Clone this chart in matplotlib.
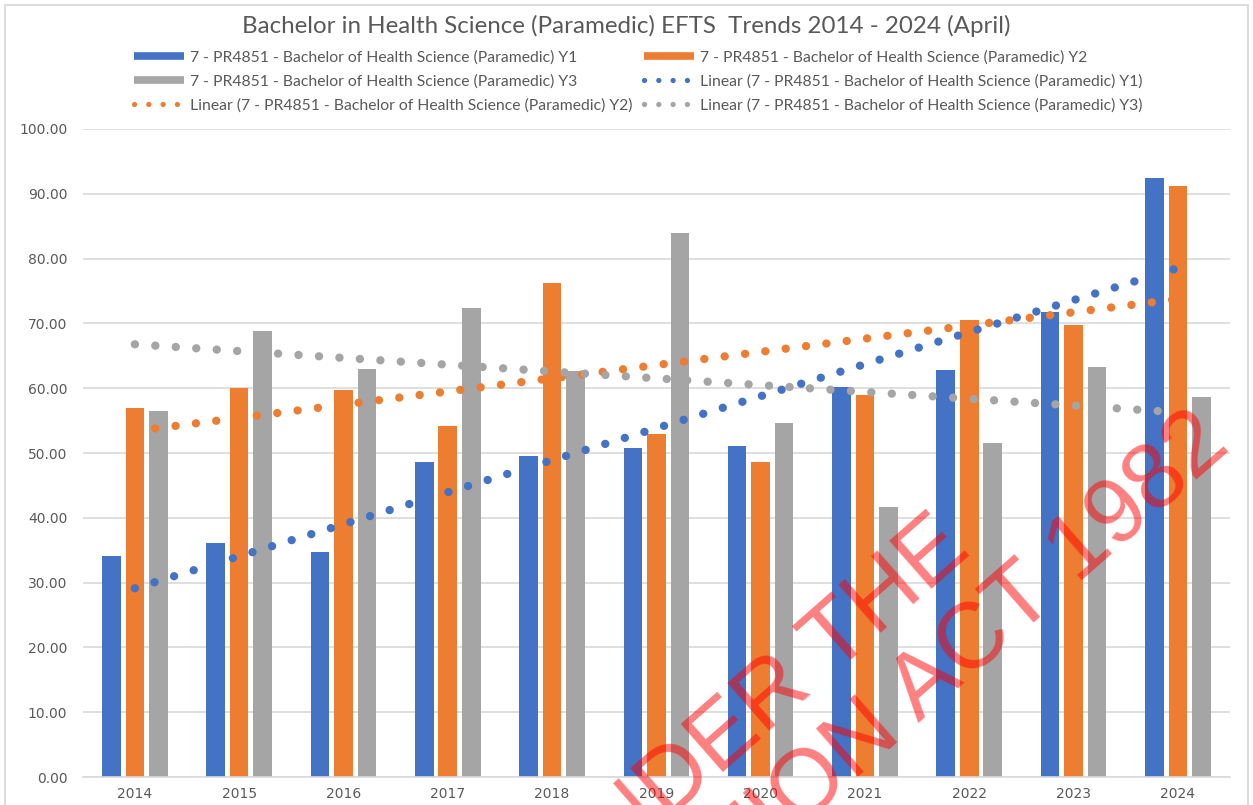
import numpy as np
import matplotlib
matplotlib.use("Agg")
import matplotlib.pyplot as plt
from matplotlib.lines import Line2D
from matplotlib.patches import Rectangle

years = ["2014", "2015", "2016", "2017", "2018", "2019", "2020", "2021", "2022", "2023", "2024"]
y1 = [34.1, 36.1, 34.7, 48.6, 49.5, 50.8, 51.1, 60.2, 62.8, 71.7, 92.5]
y2 = [57.0, 60.1, 59.7, 54.2, 76.3, 52.9, 48.6, 59.0, 70.5, 69.8, 91.2]
y3 = [56.5, 68.8, 62.9, 72.3, 62.7, 84.0, 54.7, 41.6, 51.5, 63.2, 58.6]

names = [
    "7 - PR4851 - Bachelor of Health Science (Paramedic) Y1",
    "7 - PR4851 - Bachelor of Health Science (Paramedic) Y2",
    "7 - PR4851 - Bachelor of Health Science (Paramedic) Y3",
]
colors = ["#4472C4", "#ED7D31", "#A5A5A5"]
title = "Bachelor in Health Science (Paramedic) EFTS  Trends 2014 - 2024 (April)"

W, H = 1253, 805
fig = plt.figure(figsize=(W / 100, H / 100), dpi=100)
fig.patch.set_facecolor("white")

# chart area border
fig.add_artist(Rectangle((5 / W, -0.02), (W - 10) / W, 1.0 - 5 / H + 0.02,
                         transform=fig.transFigure, fill=False,
                         edgecolor="#D9D9D9", lw=1.3))

ax = fig.add_axes([82.7 / W, 28 / H, (1230 - 82.7) / W, 648 / H])

x = np.arange(len(years))
bw = 0.178
step = 0.225
for i, (vals, c) in enumerate(zip([y1, y2, y3], colors)):
    ax.bar(x + (i - 1) * step, vals, width=bw, color=c, zorder=2)

# linear trendlines (least squares on each series)
trend_handles = []
for vals, c in zip([y1, y2, y3], colors):
    k, m = np.polyfit(x, vals, 1)
    xs = np.array([x[0], x[-1]])
    ax.plot(xs, k * xs + m, color=c, lw=6, linestyle=(0, (0.01, 2.45)),
            dash_capstyle="round", zorder=3)
    trend_handles.append(Line2D([0], [0], color=c, lw=3.8,
                                linestyle=(0, (0.01, 2.7)), dash_capstyle="round"))

ax.set_xlim(-0.5, len(years) - 0.5)
ax.set_ylim(0, 100)
ax.set_yticks(np.arange(0, 101, 10))
ax.set_yticklabels([f"{v:.2f}" for v in np.arange(0, 101, 10)])
ax.set_xticks(x)
ax.set_xticklabels(years)
ax.grid(axis="y", color="#D9D9D9", lw=1.2, zorder=0)
ax.set_axisbelow(True)
for s in ["top", "right", "left"]:
    ax.spines[s].set_visible(False)
ax.spines["bottom"].set_color("#D9D9D9")
ax.spines["bottom"].set_linewidth(1.2)
ax.tick_params(length=0, labelcolor="#595959", labelsize=10)
ax.tick_params(axis="y", pad=11)
ax.tick_params(axis="x", pad=7)

fig.text(0.5, 1 - 26 / H, title, ha="center", va="center",
         fontsize=17.4, color="#595959", family="Lato")

bar_handles = [Line2D([0], [0], color=c, lw=5.5, solid_capstyle="butt") for c in colors]
labels_all = names + [f"Linear ({n})" for n in names]
handles_all = bar_handles + trend_handles
order = [0, 2, 4, 1, 3, 5]
fig.legend([handles_all[i] for i in order], [labels_all[i] for i in order],
           ncol=2, loc="upper left", bbox_to_anchor=(134 / W, 1 - 50 / H),
           frameon=False, prop={"family": "Lato", "size": 11.3},
           labelcolor="#595959", handlelength=3.2, handletextpad=0.35,
           columnspacing=0.75, labelspacing=0.62, borderpad=0, borderaxespad=0)

# release stamp
wm = dict(rotation=41.3, rotation_mode="anchor", ha="right", va="baseline",
          color="red", alpha=0.5, fontsize=67, family="Liberation Sans")
fig.text(973 / W, 1 - 553 / H, "RELEASED UNDER THE", **wm)
fig.text(1232 / W, 1 - 448 / H, "OFFICIAL INFORMATION ACT 1982", **wm)

fig.savefig("out.png", dpi=100)
